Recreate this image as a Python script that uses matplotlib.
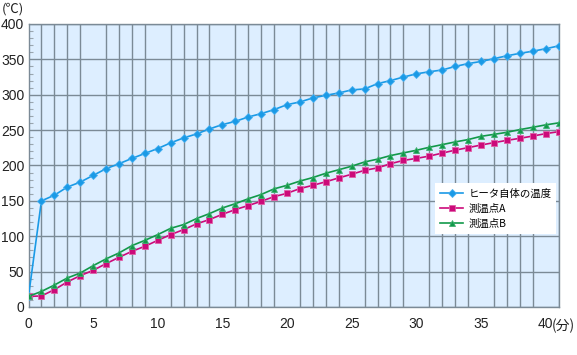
import numpy as np
import matplotlib.pyplot as plt
from matplotlib.ticker import MultipleLocator

plt.rcParams['font.family'] = ['Liberation Sans', 'Noto Sans CJK JP', 'DejaVu Sans']

minutes = list(range(42))

heater = [15, 150, 158, 169.5, 176.5, 186, 195.5, 202.5, 210, 217, 224, 232, 239,
          244.6, 251.7, 257.8, 262.4, 268.6, 273.3, 279, 286, 289.8, 295.5, 299.2,
          302.5, 306.8, 308.2, 315.7, 320, 325, 329.5, 332.5, 335, 340, 344, 347,
          351, 355, 358.5, 361.5, 365, 369]
point_a = [15, 15.6, 24.5, 35.4, 44.3, 51.8, 61.3, 70.2, 78.7, 85.8, 94.2, 102.3,
           109.4, 117.5, 123.6, 131, 137.7, 143.4, 149.4, 156, 160.7, 167.4, 172,
           177, 182.5, 187.6, 193.2, 196.6, 202.5, 207.2, 210, 213.3, 217.5, 221.7,
           225.2, 228.9, 232.3, 235.5, 238.4, 241.6, 245, 247.8]
point_b = [15, 22, 31, 41, 48, 58.4, 68, 76.4, 86.7, 94.2, 102.3, 111.2, 116.5,
           125, 132, 140, 146, 153, 159, 167, 172, 178, 183, 189, 194, 199, 205,
           209, 214, 217.8, 221.5, 225.7, 229.5, 233.3, 236.6, 241.2, 244, 246.9,
           250.7, 254, 257.4, 260.2]

labels = ['ヒータ自体の温度', '測温点A', '測温点B']
xticks = [0, 5, 10, 15, 20, 25, 30, 35, 40]
yticks = [0, 50, 100, 150, 200, 250, 300, 350, 400]

fig = plt.figure(figsize=(5.77, 3.55), dpi=100)
ax = fig.add_axes([28.5 / 577, 1 - 307 / 355, 530 / 577, 283 / 355])
ax.set_facecolor('#ddeeff')

ax.plot(minutes, heater, color='#1a9ae6', marker='D', markersize=3.6,
        markeredgecolor='#4ab0f0', markeredgewidth=0.6, lw=1.2, label=labels[0], zorder=4)
ax.plot(minutes, point_a, color='#cc0a7a', marker='s', markersize=4,
        markeredgecolor='#e060a8', markeredgewidth=0.6, lw=1.2, label=labels[1], zorder=4)
ax.plot(minutes, point_b, color='#12994a', marker='^', markersize=5,
        markeredgecolor='#40b070', markeredgewidth=0.6, lw=1.2, label=labels[2], zorder=4)

ax.set_xlim(0, 41)
ax.set_ylim(0, 400)
ax.set_xticks(range(0, 42), minor=True)
ax.set_xticks(xticks)
ax.set_yticks(yticks)
ax.yaxis.set_minor_locator(MultipleLocator(10))
ax.grid(True, which='major', axis='y', color='#7b8a96', lw=1.0)
ax.grid(True, which='minor', axis='x', color='#7b8a96', lw=1.0)
ax.set_axisbelow(True)

ax.set_xticklabels([str(t) for t in xticks[:-1]] + ['40'])
ax.tick_params(axis='both', which='major', length=0, labelsize=10, colors='#222222')
ax.tick_params(axis='x', pad=7)
ax.tick_params(axis='y', pad=3)
ax.tick_params(axis='y', which='minor', direction='in', length=3, color='#9aa6b0', width=0.8)
ax.tick_params(axis='x', which='minor', length=0)

for s in ax.spines.values():
    s.set_color('#7b8a96')
    s.set_linewidth(1.0)

ax.text(40.5, -16.5, '(分)', ha='left', va='top', fontsize=10, color='#222222',
        family=['Noto Sans CJK JP', 'DejaVu Sans'])
fig.text(2 / 577, 1 - 9 / 355, '(℃)', ha='left', va='center', fontsize=9.5, color='#222222',
         family=['Noto Sans CJK JP', 'DejaVu Sans'])

leg = ax.legend(loc='upper left', bbox_to_anchor=(0.757, 0.455), frameon=True,
                fancybox=False, framealpha=1, facecolor='white', edgecolor='none',
                prop={'family': ['Noto Sans CJK JP', 'DejaVu Sans'], 'size': 7.5},
                handlelength=2.2, handletextpad=0.5, labelspacing=0.45, borderpad=0.5)
leg.set_zorder(5)

fig.savefig('out.png', dpi=100)
